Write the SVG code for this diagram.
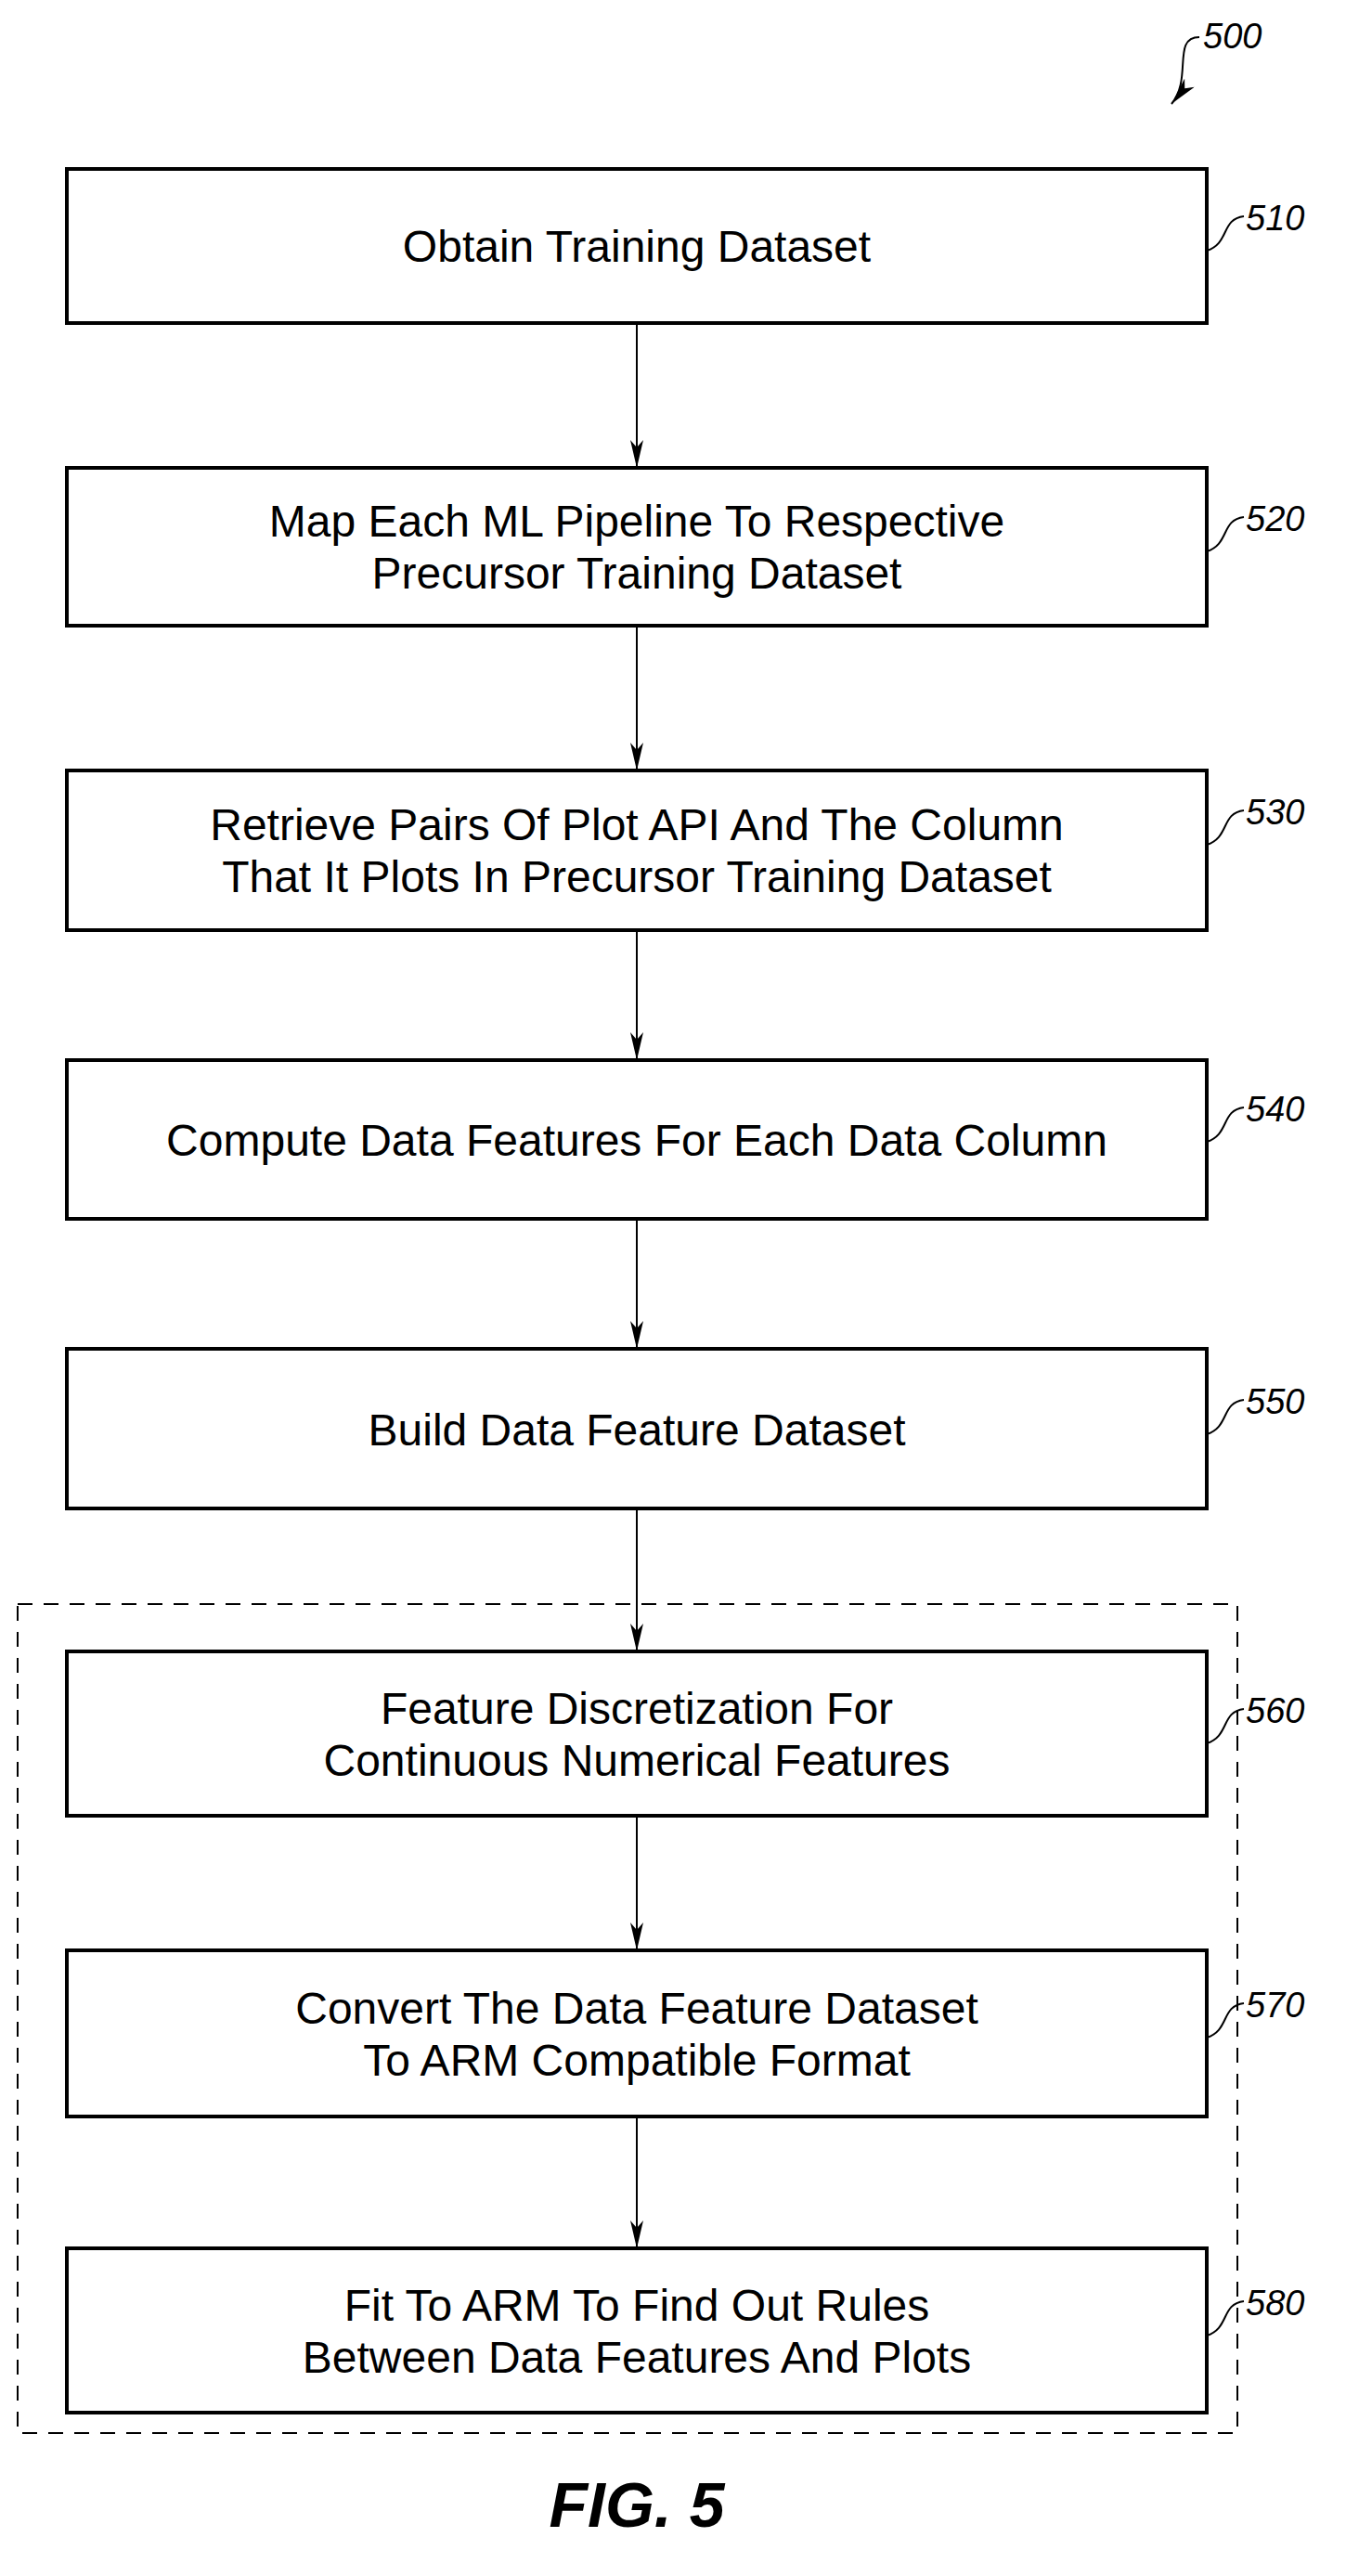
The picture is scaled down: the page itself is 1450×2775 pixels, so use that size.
<svg xmlns="http://www.w3.org/2000/svg" width="1450" height="2775" viewBox="0 0 1450 2775">
<style>
.b{fill:#fff;stroke:#000;stroke-width:4}
.t{font-family:"Liberation Sans Narrow","Liberation Sans",Arial,sans-serif;font-size:48px;text-anchor:middle;fill:#000}
.r{font-family:"Liberation Sans Narrow","Liberation Sans",Arial,sans-serif;font-size:38px;font-style:italic;fill:#000}
.l{fill:none;stroke:#000;stroke-width:2}
</style>
<defs>
<marker id="v" markerWidth="30" markerHeight="14" refX="30" refY="7" orient="auto" markerUnits="userSpaceOnUse" viewBox="0 0 30 14"><path d="M0,0 L30,7 L0,14 L8,7 Z" fill="#000"/></marker></defs>
<g id="fig500"><text class="r" x="1296" y="52">500</text><path class="l" d="M1292,40 C1262,40 1285,85 1262,112" marker-end="url(#v)"/></g>
<rect x="19" y="1728" width="1314" height="893" fill="none" stroke="#000" stroke-width="2" stroke-dasharray="16,12"/>
<g id="connectors" class="l">
<line x1="686" y1="348" x2="686" y2="504" marker-end="url(#v)"/>
<line x1="686" y1="674" x2="686" y2="830" marker-end="url(#v)"/>
<line x1="686" y1="1002" x2="686" y2="1142" marker-end="url(#v)"/>
<line x1="686" y1="1313" x2="686" y2="1453" marker-end="url(#v)"/>
<line x1="686" y1="1625" x2="686" y2="1779" marker-end="url(#v)"/>
<line x1="686" y1="1956" x2="686" y2="2101" marker-end="url(#v)"/>
<line x1="686" y1="2280" x2="686" y2="2422" marker-end="url(#v)"/>
</g>
<g id="n510"><rect class="b" x="72" y="182" width="1228" height="166"/><text class="t" x="686" y="282">Obtain Training Dataset</text><path class="l" d="M1300,270 C1325,262 1315,236 1340,233"/><text class="r" x="1342" y="248">510</text></g>
<g id="n520"><rect class="b" x="72" y="504" width="1228" height="170"/><text class="t" x="686" y="578">Map Each ML Pipeline To Respective</text><text class="t" x="686" y="634">Precursor Training Dataset</text><path class="l" d="M1300,594 C1325,586 1315,560 1340,557"/><text class="r" x="1342" y="572">520</text></g>
<g id="n530"><rect class="b" x="72" y="830" width="1228" height="172"/><text class="t" x="686" y="905">Retrieve Pairs Of Plot API And The Column</text><text class="t" x="686" y="961">That It Plots In Precursor Training Dataset</text><path class="l" d="M1300,910 C1325,902 1315,876 1340,873"/><text class="r" x="1342" y="888">530</text></g>
<g id="n540"><rect class="b" x="72" y="1142" width="1228" height="171"/><text class="t" x="686" y="1245">Compute Data Features For Each Data Column</text><path class="l" d="M1300,1230 C1325,1222 1315,1196 1340,1193"/><text class="r" x="1342" y="1208">540</text></g>
<g id="n550"><rect class="b" x="72" y="1453" width="1228" height="172"/><text class="t" x="686" y="1557">Build Data Feature Dataset</text><path class="l" d="M1300,1545 C1325,1537 1315,1511 1340,1508"/><text class="r" x="1342" y="1523">550</text></g>
<g id="n560"><rect class="b" x="72" y="1779" width="1228" height="177"/><text class="t" x="686" y="1857">Feature Discretization For</text><text class="t" x="686" y="1913">Continuous Numerical Features</text><path class="l" d="M1300,1878 C1325,1870 1315,1844 1340,1841"/><text class="r" x="1342" y="1856">560</text></g>
<g id="n570"><rect class="b" x="72" y="2101" width="1228" height="179"/><text class="t" x="686" y="2180">Convert The Data Feature Dataset</text><text class="t" x="686" y="2236">To ARM Compatible Format</text><path class="l" d="M1300,2195 C1325,2187 1315,2161 1340,2158"/><text class="r" x="1342" y="2173">570</text></g>
<g id="n580"><rect class="b" x="72" y="2422" width="1228" height="177"/><text class="t" x="686" y="2500">Fit To ARM To Find Out Rules</text><text class="t" x="686" y="2556">Between Data Features And Plots</text><path class="l" d="M1300,2516 C1325,2508 1315,2482 1340,2479"/><text class="r" x="1342" y="2494">580</text></g>
<text x="686" y="2722" font-family="Liberation Sans Narrow,Liberation Sans,Arial,sans-serif" font-size="68" font-weight="bold" font-style="italic" text-anchor="middle">FIG. 5</text>
</svg>
